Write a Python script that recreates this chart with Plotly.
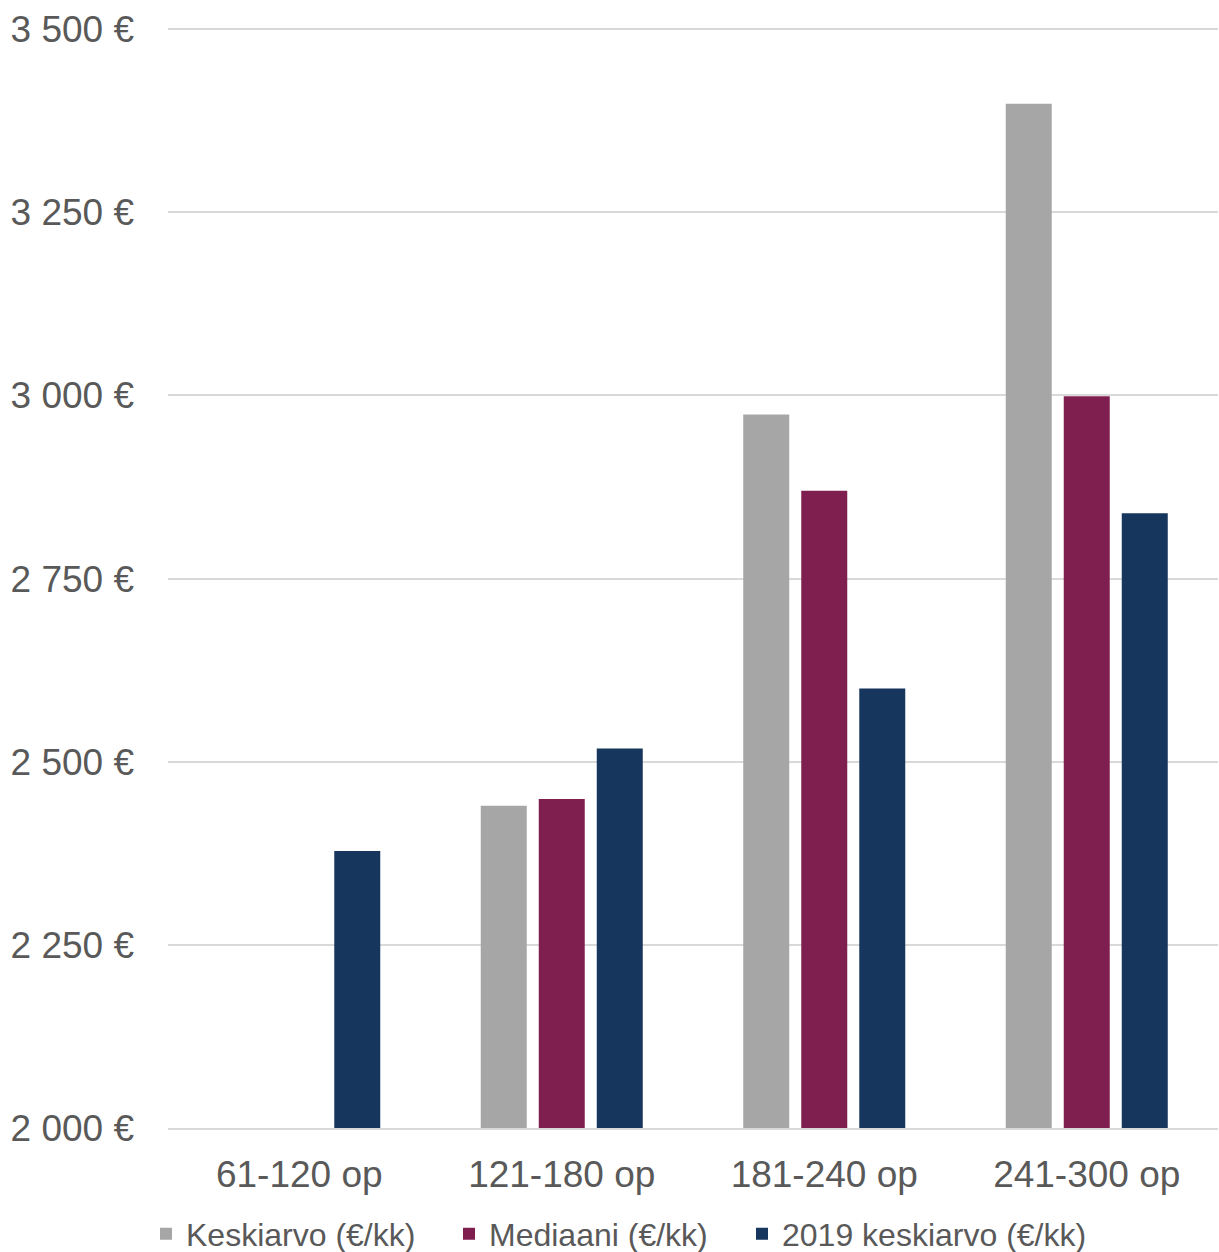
import plotly.graph_objects as go

categories = ["61-120 op", "121-180 op", "181-240 op", "241-300 op"]
keskiarvo = [None, 2440, 2974, 3398]
mediaani = [None, 2449, 2870, 2999]
keskiarvo_2019 = [2378, 2518, 2600, 2839]
tick_vals = [2000, 2250, 2500, 2750, 3000, 3250, 3500]
tick_text = ["2 000 €", "2 250 €", "2 500 €", "2 750 €", "3 000 €", "3 250 €", "3 500 €"]

FONT = "Liberation Sans, Arial, sans-serif"
GREY_TXT = "#595959"

W, H = 1219, 1252

fig = go.Figure()
fig.add_trace(go.Bar(name="Keskiarvo (€/kk)", x=categories, y=keskiarvo,
                     marker=dict(color="#A6A6A6", line=dict(width=0)),
                     legendwidth=258))
fig.add_trace(go.Bar(name="Mediaani (€/kk)", x=categories, y=mediaani,
                     marker=dict(color="#7F1F4F", line=dict(width=0)),
                     legendwidth=248))
fig.add_trace(go.Bar(name="2019 keskiarvo (€/kk)", x=categories, y=keskiarvo_2019,
                     marker=dict(color="#17365D", line=dict(width=0)),
                     legendwidth=330))

fig.update_layout(
    width=W, height=H,
    margin=dict(l=168, r=1, t=28, b=124, autoexpand=False),
    paper_bgcolor="white", plot_bgcolor="white",
    barmode="group", bargap=0.337, bargroupgap=0.207,
    font=dict(family=FONT, color=GREY_TXT, size=37),
    showlegend=True,
    legend=dict(orientation="h", xref="container", yref="container",
                x=146/W, xanchor="left", y=18/H, yanchor="middle",
                font=dict(size=32, color=GREY_TXT), itemwidth=30,
                traceorder="normal"),
    xaxis=dict(showgrid=False, showline=True, linecolor="#D9D9D9", linewidth=2,
               ticks="", tickfont=dict(size=37, color=GREY_TXT),
               ticklabelstandoff=13, automargin=False),
    yaxis=dict(range=[2000, 3501.5], tickvals=tick_vals, ticktext=tick_text,
               showgrid=True, gridcolor="#D9D9D9", gridwidth=2,
               zeroline=False, showline=False, ticks="",
               tickfont=dict(size=37, color=GREY_TXT), ticklabelstandoff=33,
               automargin=False),
)

fig.write_html(
    "out.html",
    config={"displayModeBar": False},
    post_script="document.body.style.margin='0';document.body.style.overflow='hidden';",
)
